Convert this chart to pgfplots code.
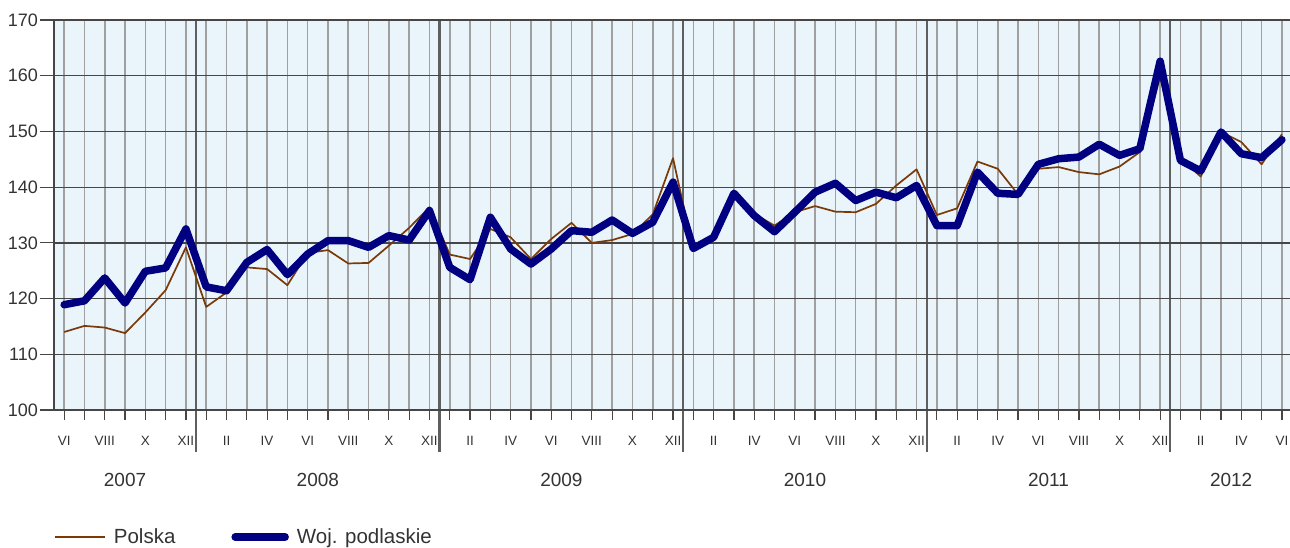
\documentclass[border=0pt]{standalone}
\usepackage{fontspec}
\setmainfont{Liberation Sans}
\usepackage{pgfplots}
\usepackage{pgfplotstable}
\pgfplotsset{compat=1.18}

\definecolor{bgblue}{RGB}{233,244,251}
\definecolor{polska}{RGB}{122,58,8}
\definecolor{navyline}{RGB}{0,0,128}
\definecolor{hgrid}{RGB}{70,70,70}
\definecolor{vgrid}{RGB}{160,160,160}
\definecolor{sepc}{RGB}{95,95,95}
\definecolor{txt}{RGB}{51,51,51}

\pgfplotstableread{
i P W
0 114.0 118.9
1 115.1 119.6
2 114.8 123.7
3 113.8 119.2
4 117.5 124.9
5 121.5 125.5
6 129.2 132.5
7 118.5 122.1
8 121.1 121.4
9 125.6 126.5
10 125.3 128.8
11 122.4 124.3
12 128.2 128.0
13 128.7 130.4
14 126.3 130.4
15 126.4 129.2
16 129.5 131.3
17 132.7 130.5
18 136.4 135.8
19 127.9 125.6
20 127.1 123.4
21 132.5 134.6
22 131.0 128.9
23 127.1 126.2
24 130.7 128.9
25 133.6 132.2
26 130.0 131.9
27 130.5 134.1
28 131.6 131.7
29 135.1 133.7
30 145.2 140.9
31 128.6 129.0
32 130.9 131.0
33 139.1 138.9
34 135.2 134.9
35 133.1 132.0
36 135.5 135.5
37 136.6 139.1
38 135.6 140.7
39 135.5 137.6
40 137.0 139.1
41 140.3 138.1
42 143.2 140.3
43 135.0 133.1
44 136.2 133.1
45 144.6 142.7
46 143.3 138.9
47 138.7 138.7
48 143.3 144.1
49 143.6 145.1
50 142.7 145.4
51 142.3 147.7
52 143.7 145.7
53 146.3 146.9
54 159.8 162.6
55 145.1 144.8
56 141.9 142.9
57 149.9 149.9
58 148.1 146.0
59 144.1 145.3
60 149.5 148.5
}\datatable

\begin{document}
\begin{tikzpicture}
\useasboundingbox (-54pt,-137pt) rectangle (1236pt,410pt);
\begin{axis}[
  at={(0,0)}, anchor=south west,
  scale only axis, width=1236pt, height=390pt,
  xmin=-0.5, xmax=60.4, ymin=100, ymax=170,
  clip=false,
  axis background/.style={fill=bgblue},
  axis x line*=bottom, axis y line*=left,
  axis line style={-, draw=hgrid, line width=1.3pt},
  xtick={0,...,60},
  xticklabels={VI,,VIII,,X,,XII,,II,,IV,,VI,,VIII,,X,,XII,,II,,IV,,VI,,VIII,,X,,XII,,II,,IV,,VI,,VIII,,X,,XII,,II,,IV,,VI,,VIII,,X,,XII,,II,,IV,,VI,,VIII,,X,,XII,,II,,IV,,VI},
  ytick={100,110,...,170},
  xtick pos=left, ytick pos=left,
  tick align=outside,
  major tick length=10pt,
  tick style={hgrid, line width=1.2pt},
  grid=major,
  x grid style={vgrid, line width=1.6pt},
  y grid style={hgrid, line width=1.3pt},
  extra x ticks={6.5,18.5,30.5,42.5,54.5},
  extra x tick labels={},
  extra x tick style={major tick length=42pt, grid=major,
     x grid style={sepc, line width=2.4pt},
     major grid style={sepc, line width=2.4pt},
     tick style={sepc, line width=2.4pt}},
  extra y ticks={100,110,...,170},
  extra y tick labels={},
  extra y tick style={major tick length=14pt},
  xticklabel style={font=\fontsize{13.5}{14}\selectfont, text=txt, anchor=center, yshift=-21pt},
  yticklabel style={font=\fontsize{18}{20}\selectfont, text=txt, anchor=east, inner sep=0pt, xshift=-6pt},
  /pgf/number format/assume math mode=true,
  legend style={at={(0,0)}, anchor=west, xshift=0pt, yshift=-127pt,
     draw=none, fill=none, inner sep=0pt, legend columns=2,
     font=\fontsize{20.5}{22}\selectfont, text=txt,
     /tikz/every odd column/.append style={column sep=6pt},
     /tikz/every even column/.append style={column sep=54pt}},
  legend cell align=left,
  legend image code/.code={\draw[#1] (0pt,0pt) -- (50pt,0pt);},
]
\addplot[polska, line width=1.7pt, line join=round] table[x=i, y=P] {\datatable};
\addlegendentry{Polska}
\addplot[navyline, line width=7.5pt, line join=round, line cap=round] table[x=i, y=W] {\datatable};
\addlegendentry{Woj. podlaskie}
\node[font=\fontsize{19}{20}\selectfont, text=txt] at (axis cs:3,100) [yshift=-70pt] {2007};
\node[font=\fontsize{19}{20}\selectfont, text=txt] at (axis cs:12.5,100) [yshift=-70pt] {2008};
\node[font=\fontsize{19}{20}\selectfont, text=txt] at (axis cs:24.5,100) [yshift=-70pt] {2009};
\node[font=\fontsize{19}{20}\selectfont, text=txt] at (axis cs:36.5,100) [yshift=-70pt] {2010};
\node[font=\fontsize{19}{20}\selectfont, text=txt] at (axis cs:48.5,100) [yshift=-70pt] {2011};
\node[font=\fontsize{19}{20}\selectfont, text=txt] at (axis cs:57.5,100) [yshift=-70pt] {2012};
\end{axis}
\end{tikzpicture}
\end{document}
